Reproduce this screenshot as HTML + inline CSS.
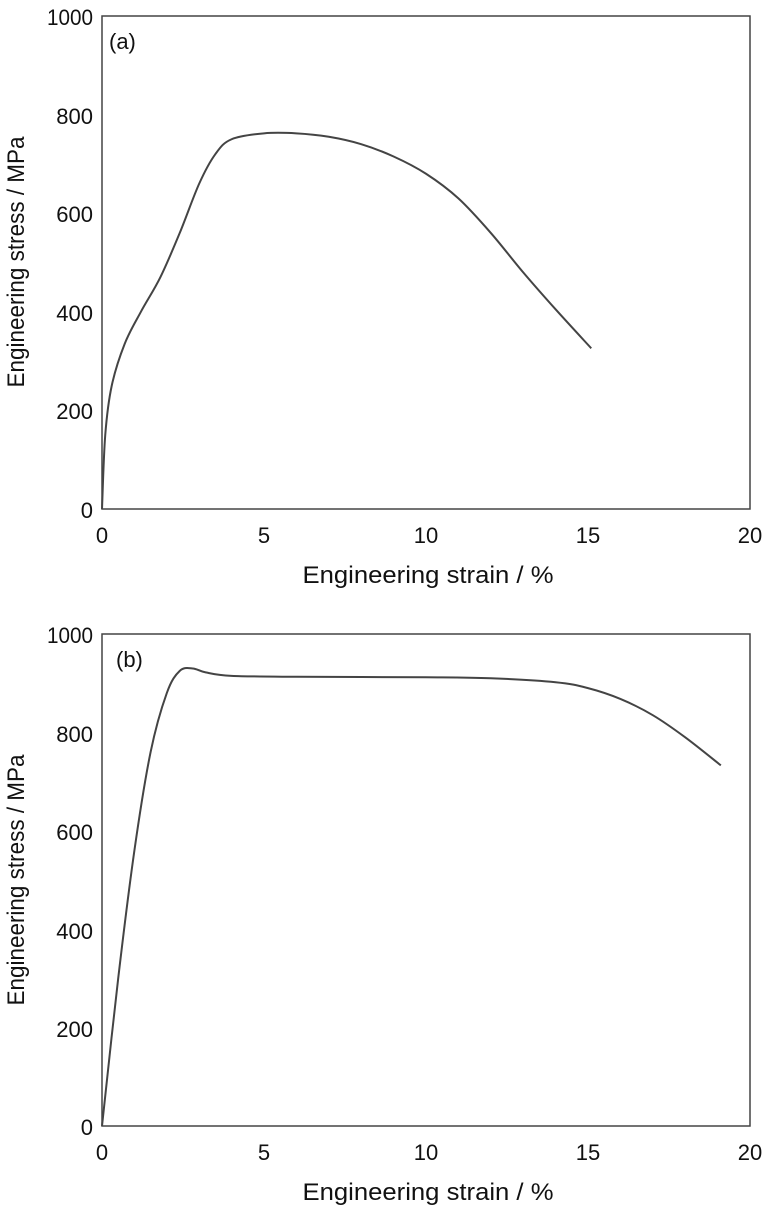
<!DOCTYPE html>
<html><head><meta charset="utf-8"><style>
body{margin:0;background:#fff}
svg text{font-family:"Liberation Sans",Arial,sans-serif;fill:#111}
</style></head><body>
<svg id="s" width="768" height="1210" viewBox="0 0 768 1210" xmlns="http://www.w3.org/2000/svg">
<g font-size="22">
<rect x="102" y="16" width="648" height="493" fill="none" stroke="#444" stroke-width="1.5"/>
<text x="109" y="49">(a)</text>
<g text-anchor="end">
<text x="93" y="25" textLength="46" lengthAdjust="spacingAndGlyphs">1000</text><text x="93" y="124">800</text><text x="93" y="222">600</text>
<text x="93" y="321">400</text><text x="93" y="419">200</text><text x="93" y="518">0</text>
</g>
<g text-anchor="middle">
<text x="102" y="543">0</text><text x="264" y="543">5</text><text x="426" y="543">10</text>
<text x="588" y="543">15</text><text x="750" y="543">20</text>
<text x="428" y="583" font-size="24" textLength="251" lengthAdjust="spacingAndGlyphs">Engineering strain / %</text>
<text transform="translate(24,262) rotate(-90)" font-size="24" textLength="251" lengthAdjust="spacingAndGlyphs">Engineering stress / MPa</text>
</g>
<rect x="102" y="634" width="648" height="492" fill="none" stroke="#444" stroke-width="1.5"/>
<text x="116" y="667">(b)</text>
<g text-anchor="end">
<text x="93" y="643" textLength="46" lengthAdjust="spacingAndGlyphs">1000</text><text x="93" y="742">800</text><text x="93" y="840">600</text>
<text x="93" y="939">400</text><text x="93" y="1037">200</text><text x="93" y="1135">0</text>
</g>
<g text-anchor="middle">
<text x="102" y="1160">0</text><text x="264" y="1160">5</text><text x="426" y="1160">10</text>
<text x="588" y="1160">15</text><text x="750" y="1160">20</text>
<text x="428" y="1200" font-size="24" textLength="251" lengthAdjust="spacingAndGlyphs">Engineering strain / %</text>
<text transform="translate(24,880) rotate(-90)" font-size="24" textLength="251" lengthAdjust="spacingAndGlyphs">Engineering stress / MPa</text>
</g>
</g>
<path id="pa" fill="none" stroke="#444" stroke-width="2"/>
<path id="pb" fill="none" stroke="#444" stroke-width="2"/>
</svg>
<script>
function mk(pts,y0,h){
 const X=e=>102+e*32.4, Y=s=>y0-s*h/1000;
 let p=pts.map(q=>[X(q[0]),Y(q[1])]);
 let d="M"+p[0][0]+","+p[0][1];
 for(let i=0;i<p.length-1;i++){
  const a=p[i-1]||p[i],b=p[i],c=p[i+1],e=p[i+2]||c;
  d+=" C"+(b[0]+(c[0]-a[0])/6)+","+(b[1]+(c[1]-a[1])/6)+" "+(c[0]-(e[0]-b[0])/6)+","+(c[1]-(e[1]-b[1])/6)+" "+c[0]+","+c[1];
 }
 return d;
}
document.getElementById("pa").setAttribute("d",mk([[0,0],[0.1,150],[0.3,250],[0.7,335],[1.2,400],[1.8,470],[2.4,560],[3,660],[3.5,720],[4,750],[5,762],[6,762],[7,755],[8,740],[9,715],[10,680],[11,630],[12,560],[13,480],[14,405],[15.1,326]],509,493));
document.getElementById("pb").setAttribute("d",mk([[0,0],[0.5,300],[1,560],[1.5,760],[2,880],[2.4,925],[2.8,930],[3.2,922],[4,915],[6,913],[10,912],[12,910],[14,902],[15,890],[16,868],[17,835],[18,790],[19.1,733]],1126,492));
</script>
</body></html>
